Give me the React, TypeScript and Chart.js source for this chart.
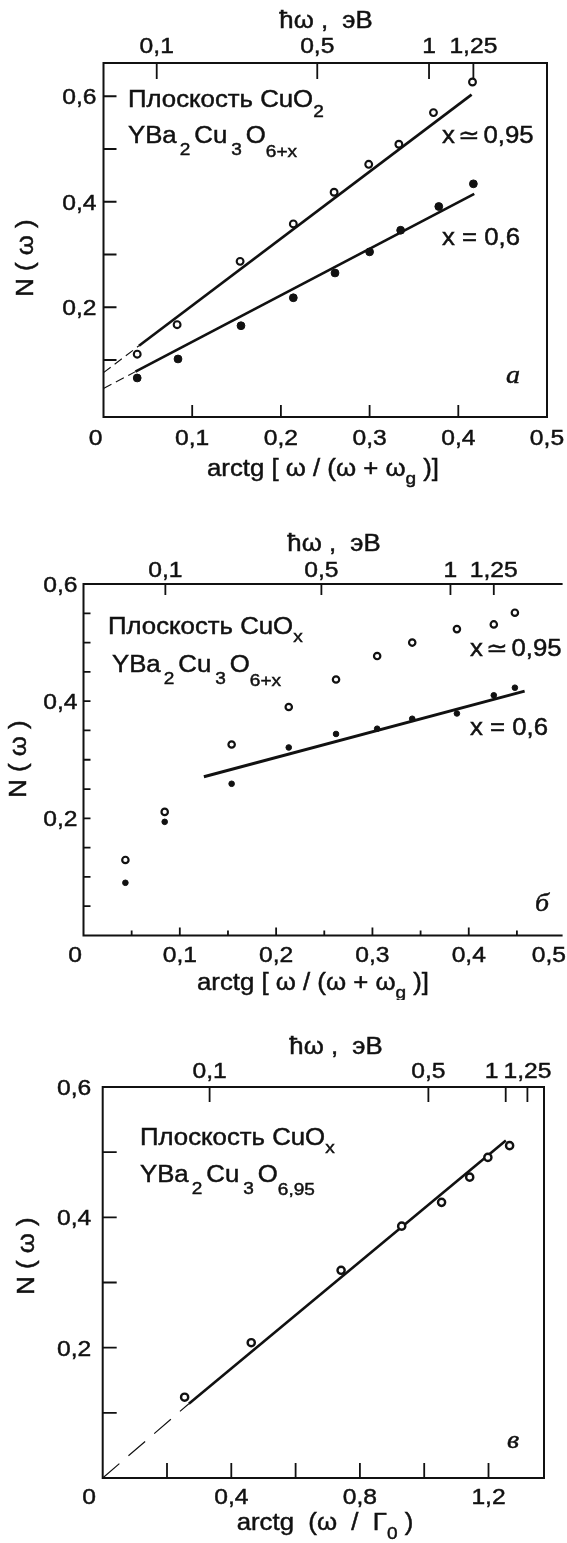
import React, { useEffect, useRef } from "react";
import { Chart, registerables } from "chart.js";

Chart.register(...registerables);

const W = 567;
const INK = "#111";

// ---------------- Panel a: CuO2 plane ----------------
const aX095 = [0.038, 0.083, 0.154, 0.214, 0.26, 0.299, 0.333, 0.372, 0.416];
const aN095 = [0.111, 0.167, 0.287, 0.358, 0.418, 0.471, 0.509, 0.569, 0.627];
const aX06 = [0.038, 0.084, 0.155, 0.214, 0.261, 0.3, 0.335, 0.378, 0.417];
const aN06 = [0.066, 0.102, 0.165, 0.218, 0.265, 0.305, 0.346, 0.391, 0.434];
const aFit095X = [0.04, 0.415];
const aFit095Y = [0.127, 0.603];
const aExt095X = [0, 0.04];
const aExt095Y = [0.076, 0.127];
const aFit06X = [0.036, 0.418];
const aFit06Y = [0.078, 0.415];
const aExt06X = [0, 0.036];
const aExt06Y = [0.046, 0.078];
const aYTicks = [0.1, 0.2, 0.3, 0.4, 0.5, 0.6];
const aYLabels = [0.2, 0.4, 0.6];
const aXTicks = [0.1, 0.2, 0.3, 0.4];
const aXLabels = [0, 0.1, 0.2, 0.3, 0.4, 0.5];
const aTopPos = [0.06, 0.241, 0.367, 0.417];
const aTopText = ["0,1", "0,5", "1", "1,25"];

// ---------------- Panel б: CuOx chains ----------------
const bX = [0.0435, 0.0843, 0.1538, 0.2131, 0.2622, 0.3049, 0.3413, 0.3877, 0.426, 0.4479];
const bN095 = [0.129, 0.211, 0.326, 0.39, 0.437, 0.477, 0.5, 0.523, 0.531, 0.551];
const bN06 = [0.09, 0.194, 0.259, 0.321, 0.344, 0.353, 0.37, 0.379, 0.41, 0.423];
const bFitX = [0.125, 0.458];
const bFitY = [0.271, 0.417];
const bYTicks = [0.05, 0.1, 0.15, 0.2, 0.25, 0.3, 0.35, 0.4, 0.45, 0.5, 0.55];
const bYLabels = [0.2, 0.4, 0.6];
const bXTicks = [0.05, 0.1, 0.15, 0.2, 0.25, 0.3, 0.35, 0.4, 0.45];
const bXLabels = [0, 0.1, 0.2, 0.3, 0.4, 0.5];
const bTopPos = [0.085, 0.247, 0.381, 0.426];
const bTopText = ["0,1", "0,5", "1", "1,25"];

// ---------------- Panel в: CuOx, YBa2Cu3O6.95 ----------------
const cX = [0.2548, 0.462, 0.7415, 0.93, 1.054, 1.1415, 1.198, 1.2656];
const cN = [0.124, 0.2076, 0.3187, 0.3865, 0.423, 0.4617, 0.492, 0.51];
const cFitX = [0.268, 1.254];
const cFitY = [0.114, 0.518];
const cExtX = [0, 0.268];
const cExtY = [0, 0.114];
const cYTicks = [0.1, 0.2, 0.3, 0.4, 0.5];
const cYLabels = [0.2, 0.4, 0.6];
const cXTicks = [0.2, 0.4, 0.6, 0.8, 1.0, 1.2];
const cXLabels = [0, 0.4, 0.8, 1.2];
const cTopPos = [0.3325, 1.013, 1.2535, 1.321];
const cTopText = ["0,1", "0,5", "1", "1,25"];

// ---------------- drawing helpers ----------------
const FONT = "'Liberation Sans', 'DejaVu Sans', sans-serif";
const SERIF = "'Liberation Serif', 'DejaVu Serif', serif";
const SX = 1.12;
const TICK = 22;
const TXT = 23;

type Run = { t: string; sub?: boolean; padL?: number; drop?: number; size?: number };

function drawRuns(ctx: CanvasRenderingContext2D, runs: Run[], x: number, y: number, size: number, align = "left", family = FONT, style = "") {
  const subSize = Math.round(size * 0.74);
  let total = 0;
  const widths = runs.map((r) => {
    const s = r.size || (r.sub ? subSize : size);
    ctx.font = `${style}${s}px ${family}`;
    const w = ctx.measureText(r.t).width * SX + (r.padL || 0);
    total += w;
    return w;
  });
  let cx = align === "left" ? x : align === "center" ? x - total / 2 : x - total;
  runs.forEach((r, i) => {
    const s = r.size || (r.sub ? subSize : size);
    ctx.font = `${style}${s}px ${family}`;
    ctx.save();
    ctx.translate(cx + (r.padL || 0), y + (r.sub ? (r.drop ?? 12) : 0));
    ctx.scale(SX, 1);
    ctx.textAlign = "left";
    ctx.textBaseline = "alphabetic";
    ctx.fillText(r.t, 0, 0);
    ctx.lineWidth = 0.45;
    ctx.strokeText(r.t, 0, 0);
    ctx.restore();
    cx += widths[i];
  });
  return total;
}

function textWidth(ctx: CanvasRenderingContext2D, s: string, size: number) {
  ctx.font = `${size}px ${FONT}`;
  return ctx.measureText(s).width * SX;
}

const fmt = (v: number) => (v === 0 ? "0" : v.toFixed(1).replace(".", ","));
const pts = (xs: number[], ys: number[]) => xs.map((x, i) => ({ x, y: ys[i] }));

function openSet(xs: number[], ys: number[], r: number, bw: number) {
  return {
    data: pts(xs, ys), showLine: false, pointRadius: r, pointHoverRadius: r,
    pointBackgroundColor: "#fff", pointBorderColor: INK, pointBorderWidth: bw, clip: false, order: 0,
  };
}
function filledSet(xs: number[], ys: number[], r: number) {
  return {
    data: pts(xs, ys), showLine: false, pointRadius: r, pointHoverRadius: r,
    pointBackgroundColor: INK, pointBorderColor: INK, pointBorderWidth: 1, clip: false, order: 0,
  };
}
function lineSet(xs: number[], ys: number[], w: number, dash: number[] = []) {
  return {
    data: pts(xs, ys), showLine: true, borderColor: INK, borderWidth: w, borderDash: dash,
    pointRadius: 0, pointHoverRadius: 0, fill: false, tension: 0, clip: false, order: 1,
  };
}

type Spec = {
  top: number; height: number;
  pad: { left: number; right: number; top: number; bottom: number };
  xMin: number; xMax: number; yMin: number; yMax: number;
  datasets: any[];
  yTicks: number[]; yTickLen: number; yLabels: number[]; yLabelGap: number;
  xTicks: number[]; xTickLen: (v: number) => number; xLabels: number[]; xLabelOff: number; zeroDx: number;
  topPos: number[]; topText: string[]; topLen: number; topLabelOff: number;
  rightBorder: boolean;
  extra: (ctx: CanvasRenderingContext2D) => void;
};

function makePlugin(spec: Spec) {
  return {
    id: "deco",
    afterDraw(chart: any) {
      const ctx: CanvasRenderingContext2D = chart.ctx;
      const a = chart.chartArea;
      const xs = chart.scales.x;
      const ys = chart.scales.y;
      ctx.save();
      ctx.strokeStyle = INK;
      ctx.fillStyle = INK;
      ctx.lineJoin = "miter";
      ctx.lineCap = "square";
      ctx.lineWidth = 2;
      ctx.beginPath();
      ctx.moveTo(a.right, a.top);
      ctx.lineTo(a.left, a.top);
      ctx.lineTo(a.left, a.bottom);
      ctx.lineTo(a.right, a.bottom);
      if (spec.rightBorder) ctx.lineTo(a.right, a.top);
      ctx.stroke();

      ctx.lineCap = "butt";
      ctx.lineWidth = 1.8;
      ctx.beginPath();
      spec.yTicks.forEach((v) => {
        const p = ys.getPixelForValue(v);
        ctx.moveTo(a.left, p);
        ctx.lineTo(a.left + spec.yTickLen, p);
      });
      spec.xTicks.forEach((v) => {
        const p = xs.getPixelForValue(v);
        ctx.moveTo(p, a.bottom);
        ctx.lineTo(p, a.bottom - spec.xTickLen(v));
      });
      spec.topPos.forEach((v) => {
        const p = xs.getPixelForValue(v);
        ctx.moveTo(p, a.top);
        ctx.lineTo(p, a.top + spec.topLen);
      });
      ctx.stroke();

      // y labels
      spec.yLabels.forEach((v) => {
        const p = ys.getPixelForValue(v);
        drawRuns(ctx, [{ t: fmt(v) }], a.left - spec.yLabelGap, p + TICK * 0.36, TICK, "right");
      });
      // x labels (kept inside the canvas)
      const cw = chart.width;
      spec.xLabels.forEach((v) => {
        let p = v === 0 ? a.left + spec.zeroDx : xs.getPixelForValue(v);
        const w = textWidth(ctx, fmt(v), TICK);
        if (p + w / 2 > cw - 1) p = cw - 1 - w / 2;
        drawRuns(ctx, [{ t: fmt(v) }], p, a.bottom + spec.xLabelOff, TICK, "center");
      });
      // top labels: kept inside the canvas and apart from each other (right to left)
      let limit = cw - 1;
      for (let i = spec.topPos.length - 1; i >= 0; i--) {
        let p = xs.getPixelForValue(spec.topPos[i]);
        const w = textWidth(ctx, spec.topText[i], TICK);
        if (p + w / 2 > limit) p = limit - w / 2;
        drawRuns(ctx, [{ t: spec.topText[i] }], p, a.top - spec.topLabelOff, TICK, "center");
        limit = p - w / 2 - 5;
      }
      spec.extra(ctx);
      ctx.restore();
    },
  };
}

function yTitle(ctx: CanvasRenderingContext2D, cx: number, cy: number) {
  ctx.save();
  ctx.translate(cx, cy);
  ctx.rotate(-Math.PI / 2);
  drawRuns(ctx, [{ t: "N ( ω )" }], 0, TXT * 0.36, TXT, "center");
  ctx.restore();
}

const topTitle: Run[] = [{ t: "ħω ,  эВ" }];
const xTitleG: Run[] = [{ t: "arctg [ ω / (ω + ω" }, { t: "g", sub: true, drop: 8, size: 17 }, { t: " )]" }];
const xTitleG0: Run[] = [{ t: "arctg  (ω  /  Γ" }, { t: "0", sub: true, drop: 9, size: 17 }, { t: " )" }];
const approx095: Run[] = [{ t: "x" }, { t: "≃", padL: 3 }, { t: "0,95", padL: 4 }];
const eq06: Run[] = [{ t: "x = 0,6" }];
const formula6x: Run[] = [
  { t: "YBa" }, { t: "2", sub: true, padL: 3 }, { t: "Cu", padL: 4 }, { t: "3", sub: true, padL: 4 },
  { t: "O", padL: 4 }, { t: "6+x", sub: true, drop: 14 },
];
const formula695: Run[] = [
  { t: "YBa" }, { t: "2", sub: true, padL: 3 }, { t: "Cu", padL: 4 }, { t: "3", sub: true, padL: 4 },
  { t: "O", padL: 4 }, { t: "6,95", sub: true, drop: 13 },
];

const specA: Spec = {
  top: 0, height: 495,
  pad: { left: 103.5, right: 20, top: 63, bottom: 78 },
  xMin: 0, xMax: 0.5, yMin: -0.008, yMax: 0.663,
  datasets: [
    lineSet(aFit095X, aFit095Y, 2.7),
    lineSet(aExt095X, aExt095Y, 1.1, [9, 5]),
    lineSet(aFit06X, aFit06Y, 2.7),
    lineSet(aExt06X, aExt06Y, 1.1, [9, 5]),
    openSet(aX095, aN095, 3.4, 2.1),
    filledSet(aX06, aN06, 3.9),
  ],
  yTicks: aYTicks, yTickLen: 13, yLabels: aYLabels, yLabelGap: 7,
  xTicks: aXTicks, xTickLen: () => 12, xLabels: aXLabels, xLabelOff: 28, zeroDx: -8,
  topPos: aTopPos, topText: aTopText, topLen: 16, topLabelOff: 10,
  rightBorder: true,
  extra: (ctx) => {
    drawRuns(ctx, topTitle, 326, 28, TXT, "center");
    drawRuns(ctx, xTitleG, 323, 476, TXT, "center");
    yTitle(ctx, 25, 258);
    drawRuns(ctx, [{ t: "Плоскость CuO" }, { t: "2", sub: true, drop: 10 }], 128, 107, TXT);
    drawRuns(ctx, formula6x, 128, 143, TXT);
    drawRuns(ctx, approx095, 442, 143, TXT);
    drawRuns(ctx, eq06, 442, 245, TXT);
    drawRuns(ctx, [{ t: "a" }], 506, 383, 25, "left", SERIF, "italic ");
  },
};

const specB: Spec = {
  top: 495, height: 505,
  pad: { left: 83.5, right: 0, top: 89, bottom: 64.5 },
  xMin: 0, xMax: 0.4964, yMin: 0, yMax: 0.6,
  datasets: [
    lineSet(bFitX, bFitY, 2.9),
    openSet(bX, bN095, 3.2, 2.2),
    filledSet(bX, bN06, 2.8),
  ],
  yTicks: bYTicks, yTickLen: 7, yLabels: bYLabels, yLabelGap: 6,
  xTicks: bXTicks, xTickLen: (v) => (Math.abs(v * 10 - Math.round(v * 10)) < 1e-6 ? 8 : 5),
  xLabels: bXLabels, xLabelOff: 26, zeroDx: -8.5,
  topPos: bTopPos, topText: bTopText, topLen: 11, topLabelOff: 7.5,
  rightBorder: false,
  extra: (ctx) => {
    drawRuns(ctx, topTitle, 334, 56, TXT, "center");
    drawRuns(ctx, xTitleG, 313, 495, TXT, "center");
    yTitle(ctx, 18, 264);
    drawRuns(ctx, [{ t: "Плоскость CuO" }, { t: "x", sub: true, drop: 8 }], 108, 139, TXT);
    drawRuns(ctx, formula6x, 112, 177, TXT);
    drawRuns(ctx, approx095, 470, 161, TXT);
    drawRuns(ctx, eq06, 470, 240, TXT);
    drawRuns(ctx, [{ t: "б" }], 535, 416, 25, "left", SERIF, "italic ");
  },
};

const specC: Spec = {
  top: 1000, height: 543,
  pad: { left: 102.7, right: 23, top: 87, bottom: 65 },
  xMin: 0, xMax: 1.3726, yMin: 0, yMax: 0.6,
  datasets: [
    lineSet(cFitX, cFitY, 2.6),
    lineSet(cExtX, cExtY, 1.2, [22, 12]),
    openSet(cX, cN, 3.6, 2.4),
  ],
  yTicks: cYTicks, yTickLen: 14, yLabels: cYLabels, yLabelGap: 11.5,
  xTicks: cXTicks, xTickLen: () => 15, xLabels: cXLabels, xLabelOff: 26, zeroDx: -13.5,
  topPos: cTopPos, topText: cTopText, topLen: 15, topLabelOff: 9.5,
  rightBorder: true,
  extra: (ctx) => {
    drawRuns(ctx, topTitle, 336, 54, TXT, "center");
    drawRuns(ctx, xTitleG0, 325, 530, TXT, "center");
    yTitle(ctx, 26, 256);
    drawRuns(ctx, [{ t: "Плоскость CuO" }, { t: "x", sub: true, drop: 8 }], 140, 145, TXT);
    drawRuns(ctx, formula695, 140, 182, TXT);
    drawRuns(ctx, [{ t: "в" }], 507, 448, 25, "left", SERIF, "italic ");
  },
};

function Panel({ spec }: { spec: Spec }) {
  const ref = useRef<HTMLCanvasElement>(null);
  useEffect(() => {
    const canvas = ref.current!;
    const chart = new Chart(canvas, {
      type: "scatter",
      data: { datasets: spec.datasets },
      options: {
        responsive: false,
        animation: false,
        devicePixelRatio: 1,
        events: [],
        layout: { padding: spec.pad },
        plugins: { legend: { display: false }, tooltip: { enabled: false }, title: { display: false } },
        scales: {
          x: { type: "linear", min: spec.xMin, max: spec.xMax, display: false },
          y: { type: "linear", min: spec.yMin, max: spec.yMax, display: false },
        },
      },
      plugins: [makePlugin(spec)],
    } as any);
    return () => chart.destroy();
  }, []);
  return (
    <canvas
      ref={ref}
      width={W}
      height={spec.height}
      style={{ position: "absolute", left: 0, top: spec.top, width: W, height: spec.height }}
    />
  );
}

export default function App() {
  return (
    <div style={{ position: "absolute", left: 0, top: 0, width: W, height: 1543, overflow: "hidden", background: "#fff" }}>
      <Panel spec={specA} />
      <Panel spec={specB} />
      <Panel spec={specC} />
    </div>
  );
}
